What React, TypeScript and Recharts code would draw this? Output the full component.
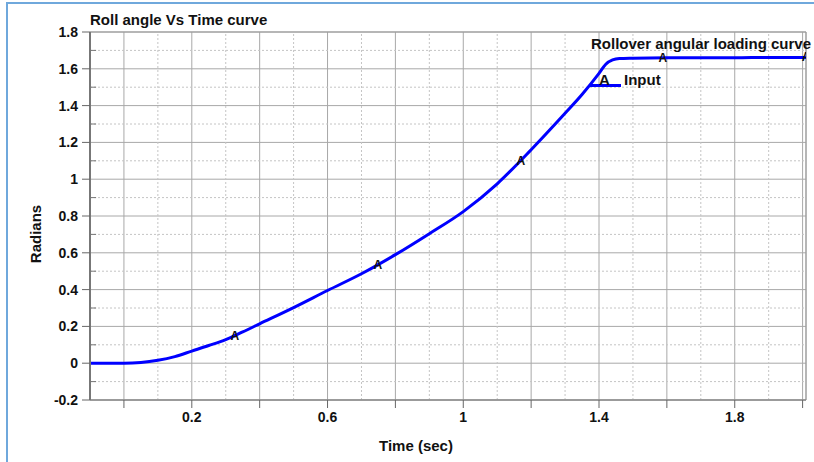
import React from 'react';
import { ComposedChart, Line, Scatter, XAxis, YAxis, CartesianGrid, ReferenceLine } from 'recharts';

const timeSec = [-0.1, 0, 0.05, 0.1, 0.15, 0.2, 0.25, 0.3, 0.35, 0.4, 0.5, 0.6, 0.7, 0.8, 0.9, 1.0, 1.1, 1.2, 1.3, 1.35, 1.4, 1.42, 1.44, 1.46, 1.5, 1.6, 1.7, 1.8, 1.9, 2.01];
const rollRad = [0, 0, 0.004, 0.016, 0.036, 0.066, 0.096, 0.128, 0.17, 0.214, 0.302, 0.395, 0.486, 0.59, 0.704, 0.824, 0.975, 1.16, 1.358, 1.46, 1.575, 1.625, 1.648, 1.656, 1.658, 1.66, 1.66, 1.66, 1.662, 1.662];

const markerTime = [0.327, 0.748, 1.17, 1.588, 2.01];
const markerRoll = [0.15, 0.535, 1.1, 1.66, 1.662];

const xTicks = [0, 0.2, 0.4, 0.6, 0.8, 1, 1.2, 1.4, 1.6, 1.8, 2];
const xLabelTicks = [0.2, 0.6, 1, 1.4, 1.8];
const xMinor = [0.1, 0.3, 0.5, 0.7, 0.9, 1.1, 1.3, 1.5, 1.7, 1.9];
const yTicks = [-0.2, 0, 0.2, 0.4, 0.6, 0.8, 1, 1.2, 1.4, 1.6, 1.8];
const yMinor = [-0.1, 0.1, 0.3, 0.5, 0.7, 0.9, 1.1, 1.3, 1.5, 1.7];

const lineData = timeSec.map((t, i) => ({ t, v: rollRad[i] }));
const markerData = markerTime.map((t, i) => ({ t, v: markerRoll[i] }));

const FONT = '"Liberation Sans", Arial, sans-serif';

const MarkerA = (props: any) => (
  <text x={props.cx} y={props.cy + 4} textAnchor="middle" fontFamily={FONT} fontWeight="bold" fontSize={12} fill="#111">A</text>
);

const txt = { position: 'absolute' as const, fontSize: 15, fontWeight: 'bold' as const, color: '#111', whiteSpace: 'nowrap' as const };

export default function App() {
  return (
    <div style={{ position: 'absolute', left: 0, top: 0, width: 814, height: 462, background: '#fff', fontFamily: FONT, overflow: 'hidden' }}>
      <div style={{ position: 'absolute', left: 6, top: 2, width: 900, height: 500, borderLeft: '2px solid #6fa8dc', borderTop: '2px solid #6fa8dc' }} />
      <ComposedChart width={814} height={462} data={lineData} margin={{ top: 32, right: 8, bottom: 32, left: 30 }} style={{ position: 'absolute', left: 0, top: 0 }}>
        <CartesianGrid stroke="#a8a8a8" strokeWidth={1} />
        {xMinor.map((x) => (
          <ReferenceLine key={'xm' + x} x={x} stroke="#c4c4c4" strokeDasharray="2 2" ifOverflow="hidden" />
        ))}
        {yMinor.map((y) => (
          <ReferenceLine key={'ym' + y} y={y} stroke="#c4c4c4" strokeDasharray="2 2" ifOverflow="hidden" />
        ))}
        {yMinor.map((y) => (
          <ReferenceLine key={'yt' + y} segment={[{ x: -0.1, y }, { x: -0.082, y }]} stroke="#777" ifOverflow="visible" />
        ))}
        <ReferenceLine y={1.8} stroke="#999" />
        <ReferenceLine x={2.01} stroke="#999" />
        <XAxis
          dataKey="t"
          type="number"
          domain={[-0.1, 2.01]}
          allowDataOverflow
          ticks={xTicks}
          interval={0}
          tickFormatter={(v: number) => (xLabelTicks.some((l) => Math.abs(l - v) < 1e-6) ? String(v) : '')}
          tickSize={8}
          tickMargin={4}
          height={30}
          axisLine={{ stroke: '#888', strokeWidth: 1.5 }}
          tickLine={{ stroke: '#666' }}
          tick={{ fill: '#111', fontSize: 14, fontWeight: 'bold', fontFamily: FONT }}
        />
        <YAxis
          type="number"
          domain={[-0.2, 1.8]}
          allowDataOverflow
          ticks={yTicks}
          interval={0}
          tickFormatter={(v: number) => String(v)}
          width={60}
          tickSize={8}
          tickMargin={4}
          axisLine={{ stroke: '#777', strokeWidth: 2 }}
          tickLine={{ stroke: '#666' }}
          tick={{ fill: '#111', fontSize: 14, fontWeight: 'bold', fontFamily: FONT }}
        />
        <Line dataKey="v" type="monotone" stroke="#0000ff" strokeWidth={3} dot={false} isAnimationActive={false} />
        <Scatter data={markerData} dataKey="v" shape={MarkerA} isAnimationActive={false} />
      </ComposedChart>
      <div style={{ ...txt, left: 90, top: 11 }}>Roll angle Vs Time curve</div>
      <div style={{ ...txt, left: 591, top: 35 }}>Rollover angular loading curve</div>
      <div style={{ position: 'absolute', left: 590, top: 84, width: 31, height: 3, background: '#0000ff' }} />
      <div style={{ ...txt, left: 599, top: 71 }}>A</div>
      <div style={{ ...txt, left: 624, top: 71 }}>Input</div>
      <div style={{ ...txt, left: 379, top: 437 }}>Time (sec)</div>
      <div style={{ position: 'absolute', left: 35, top: 234, width: 0, height: 0 }}>
        <div style={{ ...txt, transform: 'translate(-50%, -50%) rotate(-90deg)' }}>Radians</div>
      </div>
    </div>
  );
}
